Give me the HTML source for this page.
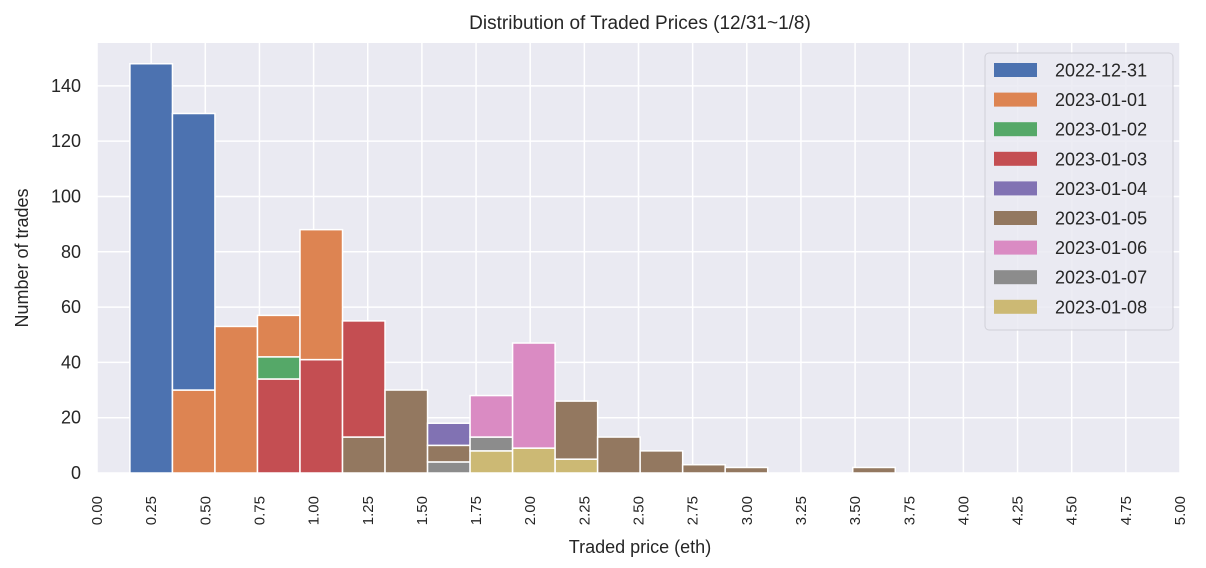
<!DOCTYPE html>
<html><head><meta charset="utf-8"><style>
body{margin:0;background:#fff;}
svg{display:block;font-family:"Liberation Sans","DejaVu Sans",sans-serif;}
</style></head><body>
<svg id="chart" width="1206" height="568"></svg>
<script>
const binStart = 0.152;
const binWidth = 0.1963;
const seriesNames = ["2022-12-31","2023-01-01","2023-01-02","2023-01-03","2023-01-04","2023-01-05","2023-01-06","2023-01-07","2023-01-08"];
const seriesColors = ["#4c72b0","#dd8452","#55a868","#c44e52","#8172b3","#937860","#da8bc3","#8c8c8c","#ccb974"];
const d1231 = [148,100,0,0,0,0,0,0,0,0,0,0,0,0,0,0,0,0];
const d0101 = [0,30,53,15,47,0,0,0,0,0,0,0,0,0,0,0,0,0];
const d0102 = [0,0,0,8,0,0,0,0,0,0,0,0,0,0,0,0,0,0];
const d0103 = [0,0,0,34,41,42,0,0,0,0,0,0,0,0,0,0,0,0];
const d0104 = [0,0,0,0,0,0,0,8,0,0,0,0,0,0,0,0,0,0];
const d0105 = [0,0,0,0,0,13,30,6,0,0,21,13,8,3,2,0,0,2];
const d0106 = [0,0,0,0,0,0,0,0,15,38,0,0,0,0,0,0,0,0];
const d0107 = [0,0,0,0,0,0,0,4,5,0,0,0,0,0,0,0,0,0];
const d0108 = [0,0,0,0,0,0,0,0,8,9,5,0,0,0,0,0,0,0];
const yTicks = [0,20,40,60,80,100,120,140];
const xTicks = ["0.00","0.25","0.50","0.75","1.00","1.25","1.50","1.75","2.00","2.25","2.50","2.75","3.00","3.25","3.50","3.75","4.00","4.25","4.50","4.75","5.00"];

const series = [d1231,d0101,d0102,d0103,d0104,d0105,d0106,d0107,d0108];
const L=97,R=1180,T=43,B=473;
const xs = v => L + (v/5)*(R-L);
const ys = v => B - v*(B-T)/155.5;
const NS="http://www.w3.org/2000/svg";
const svg=document.getElementById('chart');
function mk(tag,attrs,parent){const e=document.createElementNS(NS,tag);for(const k in attrs)e.setAttribute(k,attrs[k]);(parent||svg).appendChild(e);return e;}

let bg=mk('rect',{x:L,y:T,width:R-L,height:B-T,fill:'#eaeaf2'});


yTicks.forEach(t=>{
  let g=mk('line',{x1:L,x2:R,y1:ys(t),y2:ys(t),stroke:'#fff','stroke-width':1.5});
  
  
  let tx=mk('text',{x:L-16,y:ys(t)+6,'text-anchor':'end','font-size':18,fill:'#262626'});
  tx.textContent=t;
  
  
});
xTicks.forEach(t=>{
  const x=xs(parseFloat(t));
  let g=mk('line',{x1:x,x2:x,y1:T,y2:B,stroke:'#fff','stroke-width':1.5});
  
  
  let tx=mk('text',{x:0,y:0,'text-anchor':'end','font-size':15,fill:'#262626',transform:`translate(${x+5},${496}) rotate(-90)`});
  tx.textContent=t;
  
  
});
const nb=d1231.length;
for(let b=0;b<nb;b++){
  let acc=0;
  for(let s=series.length-1;s>=0;s--){
    const v=series[s][b];
    if(!v)continue;
    const x0=xs(binStart+b*binWidth),x1=xs(binStart+(b+1)*binWidth);
    let r=mk('rect',{x:x0,y:ys(acc+v),width:x1-x0,height:ys(acc)-ys(acc+v),fill:seriesColors[s],stroke:'#fff','stroke-width':1.5});
    
    
    acc+=v;
  }
}
let title=mk('text',{x:640,y:29,'text-anchor':'middle','font-size':19,fill:'#262626'});
title.textContent='Distribution of Traded Prices (12/31~1/8)';


let xl=mk('text',{x:640,y:553,'text-anchor':'middle','font-size':18,fill:'#262626'});
xl.textContent='Traded price (eth)';


let yl=mk('text',{x:0,y:0,'text-anchor':'middle','font-size':18,fill:'#262626',transform:'translate(28,258) rotate(-90)'});
yl.textContent='Number of trades';


let lg=mk('rect',{x:985,y:53,width:188,height:277,rx:4,fill:'#eaeaf2','fill-opacity':0.85,stroke:'#d0d0d8'});


seriesNames.forEach((n,i)=>{
  const y=70+i*29.6;
  let p=mk('rect',{x:994,y:y-7,width:43,height:14,fill:seriesColors[i]});
  
  
  let t=mk('text',{x:1055,y:y+6.5,'font-size':18,fill:'#262626'});
  t.textContent=n;
  
  
});
</script>
</body></html>
